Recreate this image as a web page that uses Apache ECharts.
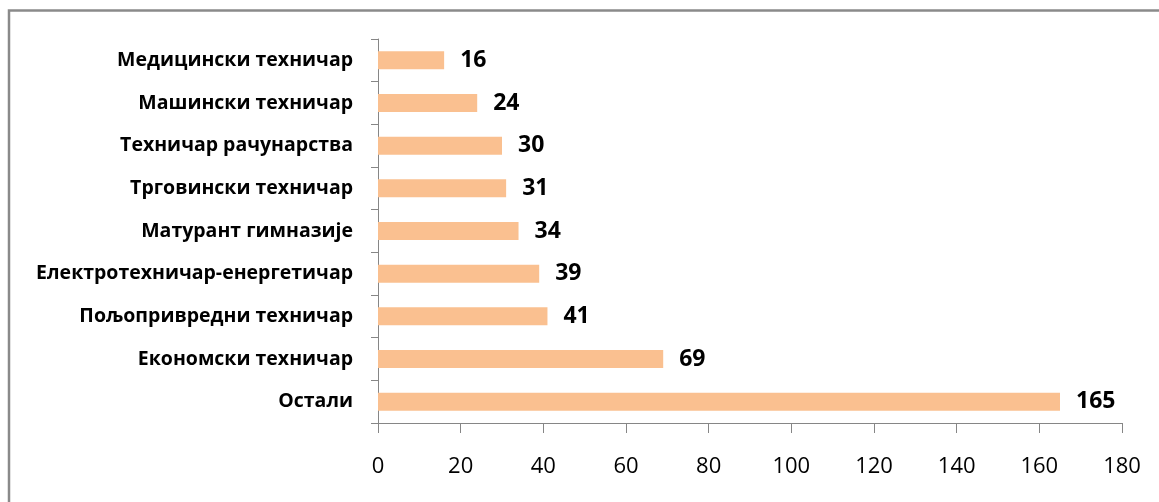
<!DOCTYPE html>
<html>
<head>
<meta charset="utf-8">
<script src="https://cdn.jsdelivr.net/npm/echarts@6/dist/echarts.min.js"></script>
<style>
html,body{margin:0;padding:0;background:#fff;}
#c{width:1159px;height:502px;}
</style>
</head>
<body>
<div id="c"></div>
<script>
const categories = ['Остали','Економски техничар','Пољопривредни техничар','Електротехничар-енергетичар','Матурант гимназије','Трговински техничар','Техничар рачунарства','Машински техничар','Медицински техничар'];
const values = [165,69,41,39,34,31,30,24,16];
const xTicks = {min:0, max:180, interval:20};

const chart = echarts.init(document.getElementById('c'));
chart.setOption({
  animation:false,
  backgroundColor:'#fff',
  graphic:[{type:'rect', shape:{x:9, y:10.5, width:1300, height:700}, style:{fill:null, stroke:'#8a8a8a', lineWidth:2.5}, silent:true}],
  grid:{left:378, right:37, top:39, bottom:79},
  xAxis:{
    type:'value', min:xTicks.min, max:xTicks.max, interval:xTicks.interval,
    axisLine:{show:true, lineStyle:{color:'#868686', width:1}},
    axisTick:{show:true, length:10, lineStyle:{color:'#868686'}},
    splitLine:{show:false},
    axisLabel:{color:'#000', fontFamily:'Open Sans', fontSize:22, margin:33}
  },
  yAxis:{
    type:'category', data:categories,
    axisLine:{show:true, lineStyle:{color:'#868686', width:1}},
    axisTick:{show:true, length:7, inside:false, alignWithLabel:false, lineStyle:{color:'#868686'}},
    axisLabel:{color:'#000', fontFamily:'Open Sans', fontWeight:'bold', fontSize:19.5, margin:25}
  },
  series:[{
    type:'bar', data:values, barWidth:18,
    itemStyle:{color:'#FAC090'},
    label:{show:true, position:'right', distance:16, color:'#000', fontFamily:'Open Sans', fontWeight:'bold', fontSize:23}
  }]
});
</script>
</body>
</html>
